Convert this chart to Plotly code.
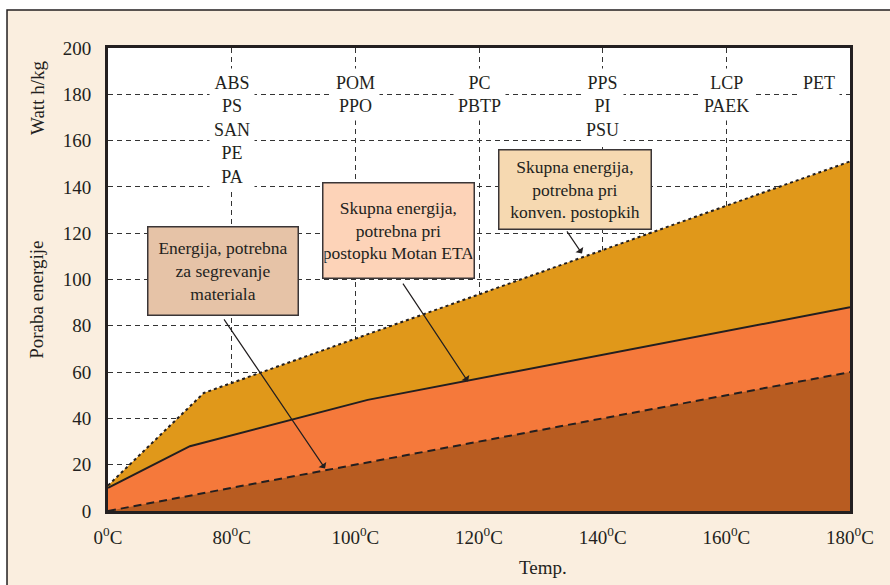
import plotly.graph_objects as go

# Temperature ticks (°C) and their labels
tick_temps = [0, 80, 100, 120, 140, 160, 180]
tick_labels = ["0<sup>0</sup>C", "80<sup>0</sup>C", "100<sup>0</sup>C", "120<sup>0</sup>C",
               "140<sup>0</sup>C", "160<sup>0</sup>C", "180<sup>0</sup>C"]

# Energy demand (Watt h/kg) vs temperature (°C)
conv_temp = [0, 62, 180]            # conventional process, total
conv_energy = [11, 51, 151]
eta_temp = [0, 53, 102, 180]        # Motan ETA process, total
eta_energy = [10, 28, 48, 88]
heat_temp = [0, 180]                # heating the material only
heat_energy = [0, 60]

y_ticks = [0, 20, 40, 60, 80, 100, 120, 140, 160, 180, 200]

# Polymers grouped by processing temperature
polymer_temps = [80, 100, 120, 140, 160, 175]
polymer_groups = [["ABS", "PS", "SAN", "PE", "PA"], ["POM", "PPO"], ["PC", "PBTP"],
                  ["PPS", "PI", "PSU"], ["LCP", "PAEK"], ["PET"]]


def pos(t):
    """Broken temperature axis: 0-80 °C fills the first step, then 20 °C per step."""
    return t / 80.0 if t <= 80 else 1 + (t - 80) / 20.0


INK = "#231F20"
FONT = "Liberation Serif"

fig = go.Figure()

fig.add_trace(go.Scatter(
    x=[pos(t) for t in conv_temp], y=conv_energy, mode="lines",
    fill="tozeroy", fillcolor="#E0981A",
    line=dict(color=INK, width=2, dash="3px,3px"), hoverinfo="skip"))
fig.add_trace(go.Scatter(
    x=[pos(t) for t in eta_temp], y=eta_energy, mode="lines",
    fill="tozeroy", fillcolor="#F5793B",
    line=dict(color=INK, width=2), hoverinfo="skip"))
fig.add_trace(go.Scatter(
    x=[pos(t) for t in heat_temp], y=heat_energy, mode="lines",
    fill="tozeroy", fillcolor="#B85C21",
    line=dict(color=INK, width=2, dash="8px,5px"), hoverinfo="skip"))

annotations = []

# Polymer name columns
for t, names in zip(polymer_temps, polymer_groups):
    annotations.append(dict(
        x=pos(t), y=191.5, xref="x", yref="y", xanchor="center", yanchor="top",
        text="<br>".join(names), showarrow=False, align="center",
        font=dict(family=FONT, size=18, color=INK),
        bgcolor="white", borderpad=4))

# Callout boxes
boxes = [
    (0.926, 103.5, 147, 85, "Energija, potrebna<br>za segrevanje<br>materiala", "#E6C3A7"),
    (2.353, 121.0, 148, 92, "Skupna energija,<br>potrebna pri<br>postopku Motan ETA", "#FDD3B8"),
    (3.780, 138.7, 149, 76, "Skupna energija,<br>potrebna pri<br>konven. postopkih", "#F6D9B1"),
]
for bx, by, bw, bh, txt, fill in boxes:
    annotations.append(dict(
        x=bx, y=by, xref="x", yref="y", xanchor="center", yanchor="middle",
        text=txt, showarrow=False, align="center", width=bw, height=bh,
        font=dict(family=FONT, size=17.5, color=INK),
        bgcolor=fill, bordercolor="#3a3536", borderwidth=1.5, borderpad=1))

# Arrows from callouts to the curves (tail -> head, data coordinates)
arrows = [
    ((0.930, 83.4), (1.755, 18.4)),
    ((2.377, 98.9), (2.911, 55.9)),
    ((3.703, 121.4), (3.833, 111.2)),
]
for (tx, ty), (hx, hy) in arrows:
    annotations.append(dict(
        x=hx, y=hy, ax=tx, ay=ty, xref="x", yref="y", axref="x", ayref="y",
        text="", showarrow=True, arrowhead=1, arrowsize=1.3, arrowwidth=1.2,
        arrowcolor=INK))

# Axis titles
annotations.append(dict(x=-0.0957, y=0.892, xref="paper", yref="paper", text="Watt h/kg",
                        textangle=-90, showarrow=False, xanchor="center", yanchor="middle",
                        font=dict(family=FONT, size=19, color=INK)))
annotations.append(dict(x=-0.0957, y=0.456, xref="paper", yref="paper", text="Poraba energije",
                        textangle=-90, showarrow=False, xanchor="center", yanchor="middle",
                        font=dict(family=FONT, size=19, color=INK)))
annotations.append(dict(x=0.586, y=-0.121, xref="paper", yref="paper", text="Temp.",
                        showarrow=False, xanchor="center", yanchor="middle",
                        font=dict(family=FONT, size=19, color=INK)))

shapes = [
    # cream outer panel with its frame
    dict(type="rect", xref="paper", yref="paper", x0=-0.1361, y0=-0.3, x1=1.3, y1=1.0821,
         fillcolor="#FAEEDF", line=dict(color=INK, width=1.5), layer="below"),
    # white plotting field
    dict(type="rect", xref="paper", yref="paper", x0=0, y0=0, x1=1, y1=1,
         fillcolor="white", line=dict(width=0), layer="below"),
]

fig.update_layout(
    width=890, height=585, autosize=False,
    margin=dict(l=108, r=40, t=48, b=74),
    paper_bgcolor="white", plot_bgcolor="rgba(0,0,0,0)",
    showlegend=False,
    font=dict(family=FONT, color=INK, size=19),
    annotations=annotations, shapes=shapes,
    xaxis=dict(range=[0, 6], tickvals=[pos(t) for t in tick_temps], ticktext=tick_labels,
               showgrid=True, gridcolor="#333333", gridwidth=1, griddash="5px,4px",
               zeroline=False, showline=True, linecolor=INK, linewidth=3, mirror=True,
               ticks="", ticklabelstandoff=7, tickfont=dict(family=FONT, size=19, color=INK),
               fixedrange=True),
    yaxis=dict(range=[0, 200], tickvals=y_ticks,
               showgrid=True, gridcolor="#333333", gridwidth=1, griddash="5px,4px",
               zeroline=False, showline=True, linecolor=INK, linewidth=3, mirror=True,
               ticks="", ticklabelstandoff=10, tickfont=dict(family=FONT, size=19, color=INK),
               fixedrange=True),
)

fig.write_html("out.html", config={"displayModeBar": False})
